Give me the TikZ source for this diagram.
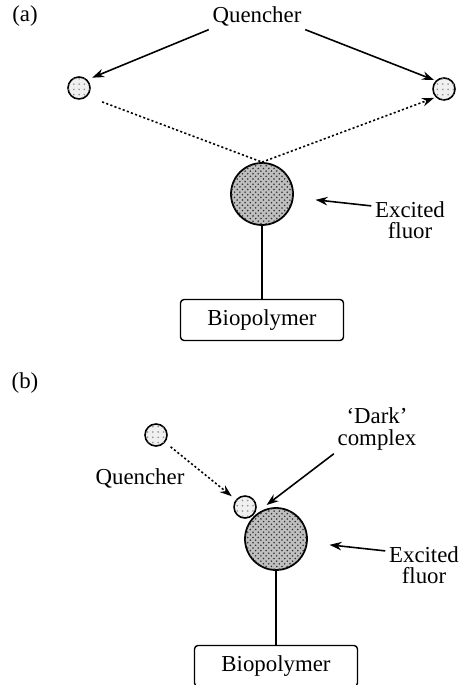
\documentclass[tikz,border=0pt]{standalone}
\usepackage{fontspec}
\setmainfont{Liberation Serif}
\usetikzlibrary{positioning, arrows.meta, patterns, calc}

\begin{document}
\begin{tikzpicture}[x=0.02cm, y=-0.02cm, font=\fontsize{13}{14}\selectfont,
  quench/.style={circle, draw, line width=0.9pt, minimum size=0.44cm, inner sep=0pt,
    fill=gray!12, postaction={pattern=dots, pattern color=gray!90}},
  fluor/.style={circle, draw, line width=1pt, minimum size=1.24cm, inner sep=0pt,
    fill=gray!50, postaction={pattern=crosshatch dots, pattern color=black!80}},
  polybox/.style={draw, line width=0.8pt, rounded corners=2pt, minimum width=3.26cm, minimum height=0.82cm},
  lbl/.style={align=center, inner sep=2pt},
  arr/.style={-{Stealth[length=2.4mm, width=1.7mm]}, line width=0.9pt},
  dotarr/.style={line width=0.9pt, dash pattern=on 1.2pt off 1.3pt}]
  \useasboundingbox (0,0) rectangle (461,685);

  % (a) quencher reaches the excited fluor by collision
  \node[lbl] (la) at (25,16) {(a)};
  \node[lbl] (qa) at (257,16) {Quencher};
  \node[quench] (qal) at (79,88) {};
  \node[quench] (qar) at (444,89) {};
  \node[fluor] (fa) at (262,194) {};
  \node[lbl] (exa) at (410,220) {Excited\\[-2pt]fluor};
  \node[polybox] (bpa) at (262,320) {Biopolymer};

  \draw[arr, shorten >=3pt] (qa.south west) -- (qal.north east);
  \draw[arr, shorten >=1pt] (qa.south east) -- (qar.north west);
  \draw[dotarr, shorten <=9pt] (qal.south east) -- (fa.north);
  \draw[dotarr, -{Stealth[length=2.4mm, width=1.7mm]}, shorten >=1pt] (fa.north) -- (qar.south west);
  \draw[arr, shorten >=0.44cm] (exa.160) -- (fa);
  \draw[line width=0.8pt] (fa.south) -- (bpa.north);

  % (b) static quenching, dark complex
  \node[lbl] (lb) at (25,383) {(b)};
  \node[quench] (qbt) at (156,435) {};
  \node[lbl] (qbl) at (140,478) {Quencher};
  \node[fluor] (fb) at (276,539) {};
  \node[quench] (qbc) at (245,507) {};
  \node[lbl] (dk) at (377,429) {`Dark'\\[-2pt]complex};
  \node[lbl] (exb) at (424,565) {Excited\\[-2pt]fluor};
  \node[polybox] (bpb) at (276,666) {Biopolymer};
  \coordinate (touch) at ($(qbc)!0.26!(fb)$);

  \draw[dotarr, -{Stealth[length=2.4mm, width=1.7mm]}, shorten <=4pt, shorten >=3pt] (qbt) -- (qbc);
  \draw[arr, shorten >=0.34cm] (dk.south west) -- (touch);
  \draw[arr, shorten >=0.44cm] (exb.160) -- (fb);
  \draw[line width=0.8pt] (fb.south) -- (bpb.north);
\end{tikzpicture}
\end{document}
